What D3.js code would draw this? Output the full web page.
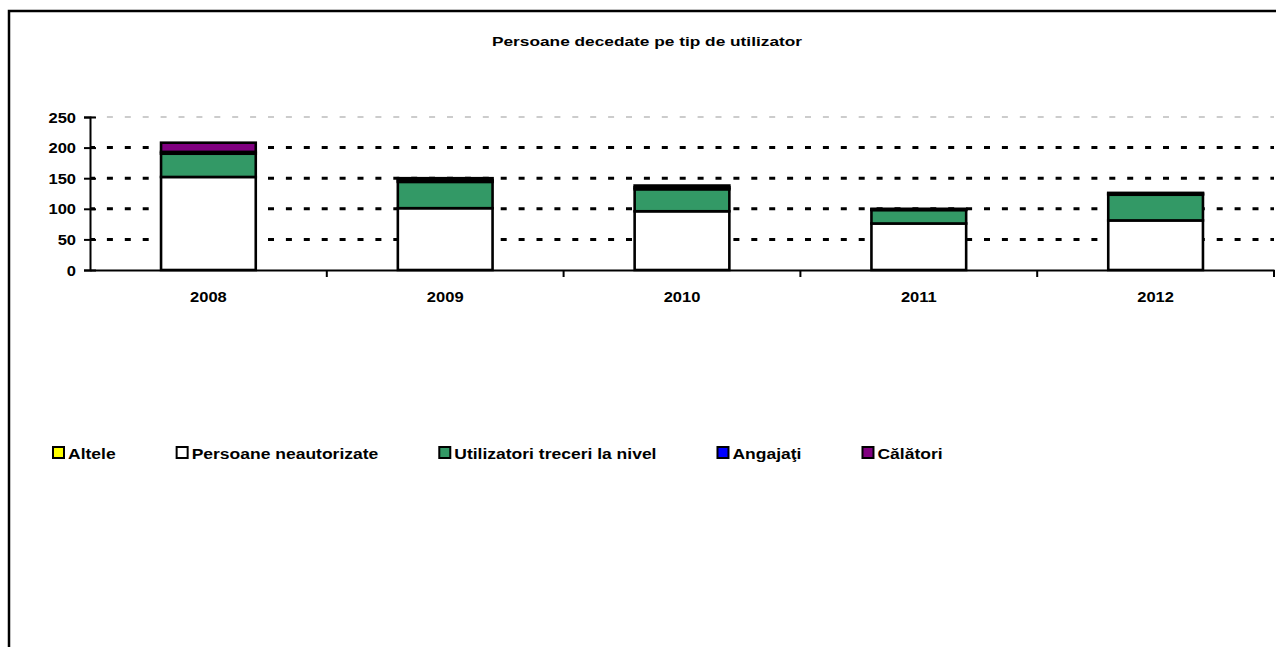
<!DOCTYPE html>
<html>
<head>
<meta charset="utf-8">
<script src="https://cdn.jsdelivr.net/npm/d3@7"></script>
<style>
  body { margin: 0; background: #fff; }
  svg { display: block; font-family: "Liberation Sans", Arial, sans-serif; font-weight: bold; }
</style>
</head>
<body>
<svg id="chart" width="1276" height="647"></svg>
<script>
// date
const years = ["2008", "2009", "2010", "2011", "2012"];
const seriesNames = ["Altele", "Persoane neautorizate", "Utilizatori treceri la nivel", "Angajaţi", "Călători"];
const altele = [0, 0, 0, 0, 0];
const persoaneNeautorizate = [152, 101, 96, 76, 81];
const utilizatoriTreceri = [38, 43, 36, 22, 42];
const angajati = [3, 3, 3, 1, 2];
const calatori = [15, 3, 3, 1, 1];
const yTicks = [0, 50, 100, 150, 200, 250];

const colors = ["#FFFF00", "#FFFFFF", "#339966", "#0000FF", "#800080"];
const title = "Persoane decedate pe tip de utilizator";

const svg = d3.select("#chart");
const margin = {top: 117, right: 2, bottom: 377, left: 90};
const W = 1276, H = 647;
const sx = 1.18; // textul din original e putin latit

// cadrul graficului
svg.append("rect")
  .attr("x", 9).attr("y", 11)
  .attr("width", 1300).attr("height", 700)
  .attr("fill", "none").attr("stroke", "#000").attr("stroke-width", 2.5);

svg.append("text")
  .attr("transform", `translate(647,46) scale(1.28,1)`)
  .attr("text-anchor", "middle")
  .attr("font-size", 13.5)
  .text(title);

// tabel pentru stack
const table = years.map((y, i) => ({
  an: y,
  [seriesNames[0]]: altele[i],
  [seriesNames[1]]: persoaneNeautorizate[i],
  [seriesNames[2]]: utilizatoriTreceri[i],
  [seriesNames[3]]: angajati[i],
  [seriesNames[4]]: calatori[i]
}));
const stacked = d3.stack().keys(seriesNames)(table);

const x = d3.scaleBand()
  .domain(years)
  .range([margin.left, W - margin.right])
  .paddingInner(0.6)
  .paddingOuter(0.3);

const y = d3.scaleLinear()
  .domain([0, 250])
  .range([H - margin.bottom, margin.top]);

const color = d3.scaleOrdinal().domain(seriesNames).range(colors);

// linii de grila
svg.append("g")
  .selectAll("line")
  .data(yTicks.filter(d => d > 0))
  .join("line")
  .attr("x1", margin.left).attr("x2", W - margin.right)
  .attr("y1", d => y(d)).attr("y2", d => y(d))
  .attr("stroke", d => d === 250 ? "#999" : "#000")
  .attr("stroke-width", d => d === 250 ? 1 : 3)
  .attr("stroke-dasharray", "6,11.9")
  .attr("stroke-dashoffset", 1);

// bare stivuite
svg.append("g")
  .selectAll("g")
  .data(stacked)
  .join("g")
  .attr("fill", d => color(d.key))
  .selectAll("rect")
  .data(d => d)
  .join("rect")
  .attr("x", d => x(d.data.an))
  .attr("y", d => y(d[1]))
  .attr("width", x.bandwidth())
  .attr("height", d => y(d[0]) - y(d[1]))
  .attr("stroke", "#000")
  .attr("stroke-width", 2.6);

// axa Y
const yAxis = svg.append("g")
  .attr("transform", `translate(${margin.left},0)`)
  .call(d3.axisLeft(y).tickValues(yTicks).tickSize(6).tickPadding(0));
yAxis.select(".domain").attr("stroke-width", 2);
yAxis.selectAll(".tick line").attr("x1", 6).attr("x2", -6).attr("stroke-width", 2);
yAxis.selectAll(".tick text")
  .attr("x", null)
  .attr("dy", "0.36em")
  .attr("font-size", 14)
  .attr("font-family", "Liberation Sans, Arial, sans-serif")
  .attr("fill", "#000")
  .attr("transform", `translate(-14,0) scale(${sx},1)`);

// axa X
const xAxis = svg.append("g")
  .attr("transform", `translate(0,${y(0)})`)
  .call(d3.axisBottom(x).tickSize(0).tickPadding(0));
xAxis.select(".domain").attr("stroke-width", 2.2);
xAxis.selectAll(".tick text")
  .attr("y", null).attr("dy", null)
  .attr("font-size", 14)
  .attr("font-family", "Liberation Sans, Arial, sans-serif")
  .attr("fill", "#000")
  .attr("transform", `translate(0,32) scale(${sx},1)`);

const gap = (x.step() - x.bandwidth()) / 2;
const bounds = years.map(d => x(d) - gap).concat([W - margin.right]);
xAxis.selectAll(".bound")
  .data(bounds.slice(1))
  .join("line")
  .attr("class", "bound")
  .attr("x1", d => d).attr("x2", d => d)
  .attr("y1", 0).attr("y2", 7)
  .attr("stroke", "#000").attr("stroke-width", 2);

// legenda
const legend = svg.append("g").attr("transform", "translate(52,453)");
let lx = 0;
seriesNames.forEach((name, i) => {
  const item = legend.append("g").attr("transform", `translate(${lx},0)`);
  item.append("rect")
    .attr("x", 1).attr("y", -6)
    .attr("width", 11).attr("height", 11)
    .attr("fill", colors[i])
    .attr("stroke", "#000").attr("stroke-width", 2);
  const t = item.append("text")
    .attr("transform", `translate(16,0) scale(1.13,1)`)
    .attr("dy", "0.36em")
    .attr("font-size", 15.5)
    .text(name);
  const w = t.node().getComputedTextLength() * 1.13;
  lx += 16 + w + 60;
});
</script>
</body>
</html>
